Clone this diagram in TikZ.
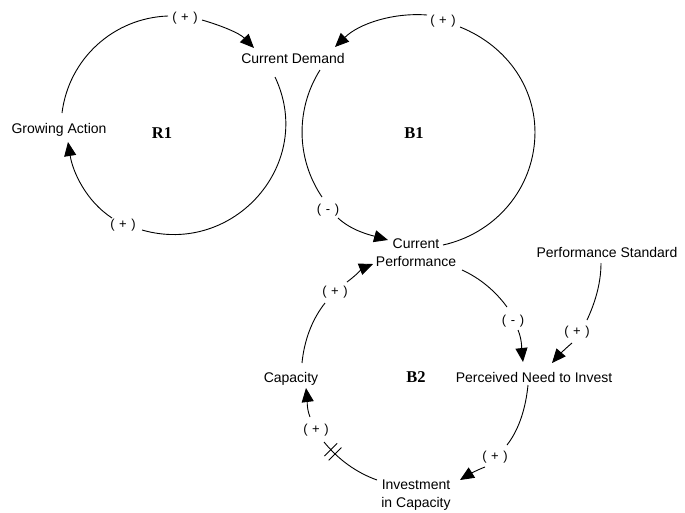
\documentclass[tikz,border=0pt]{standalone}
\usepackage{fontspec}
\setmainfont{Liberation Sans}
\newfontfamily\loopfont{Liberation Serif}
\usetikzlibrary{arrows.meta,calc,decorations.markings}
\newcommand\polfont{\fontsize{13}{15}\selectfont\spaceskip=4.6pt plus 0pt minus 0pt\relax}
\begin{document}
\begin{tikzpicture}[x=1pt,y=-1pt,
  var/.style={font=\fontsize{14}{18}\selectfont, inner sep=1pt, align=center},
  pol/.style={font=\polfont, inner sep=1pt},
  loopname/.style={font=\loopfont\bfseries\fontsize{16.5}{18}\selectfont},
  seg/.style={line width=0.9pt},
  link/.style={line width=0.9pt, -{Triangle[length=14pt,width=12pt]}},
  delay/.style={postaction={decorate}, decoration={markings, mark=at position 0.8 with {\draw[line width=0.9pt] (-3,-9) -- (-3,9); \draw[line width=0.9pt] (3,-9) -- (3,9);}}}
]
\useasboundingbox (0,0) rectangle (685,512);

% variables
\node[var] (CD) at (293,58) {Current Demand};
\node[var] (GA) at (59,129.5) {Growing Action};
\node[var] (CP) at (416,253) {Current\\Performance};
\node[var] (PS) at (607,252) {Performance Standard};
\node[var] (Cap) at (291,378.5) {Capacity};
\node[var] (PN) at (534,377) {Perceived Need to Invest};
\node[var] (IC) at (416,495) {Investment\\in Capacity};

% loop names
\node[loopname] (R1) at (162,133) {R1};
\node[loopname] (B1) at (414,133) {B1};
\node[loopname] (B2) at (416,377) {B2};

% polarity labels
\node[pol] (L1) at (185,18) {( + )};
\node[pol] (L2) at (123,225) {( + )};
\node[pol] (L3) at (443,21) {( + )};
\node[pol] (L4) at (328,210) {( - )};
\node[pol] (L5) at (335,292) {( + )};
\node[pol] (L6) at (513,321) {( - )};
\node[pol] (L7) at (577,332) {( + )};
\node[pol] (L8) at (495,457) {( + )};
\node[pol] (L9) at (316,430) {( + )};

% R1 loop
\draw[seg] ($(GA)+(3,-16.5)$) .. controls (68.7,58.8) and (113.5,17.9) .. ($(L1)+(-17,-2)$);
\draw[link] ($(L1)+(17,2)$) .. controls (220.7,25.4) and (239.4,33) .. ($(CD)+(-39,-10)$);
\draw[seg] ($(CD)+(-18,19)$) .. controls (316,163.3) and (233.9,256.4) .. ($(L2)+(19,5)$);
\draw[link] ($(L2)+(-11,-7)$) .. controls (86.3,201.3) and (72.8,172.2) .. ($(GA)+(9,12.5)$);

% B1 loop
\draw[seg] ($(CP)+(27,-8)$) .. controls (493.1,233.9) and (530.4,192.6) .. (534.6,141.5)
  .. controls (538.8,90.4) and (507.6,46) .. ($(L3)+(17,6)$);
\draw[link] ($(L3)+(-16,-6)$) .. controls (393.4,12.4) and (359.1,23.5) .. ($(CD)+(42,-11)$);
\draw[seg] ($(CD)+(27,12)$) .. controls (295.4,109) and (296.1,158.8) .. ($(L4)+(-6,-13)$);
\draw[link] ($(L4)+(10,8)$) .. controls (351.6,230.7) and (370.1,235) .. ($(CP)+(-28,-13)$);

% B2 loop
\draw[seg] ($(Cap)+(11,-15.5)$) .. controls (304.1,341.3) and (311.5,320.1) .. ($(L5)+(-10,11)$);
\draw[link] ($(L5)+(12,-10)$) .. controls (354.7,276.3) and (364.1,267.6) .. ($(CP)+(-43,11)$);
\draw[seg] ($(CP)+(46,17)$) .. controls (479.9,278.1) and (495.4,291.1) .. ($(L6)+(-6,-14)$);
\draw[link] ($(L6)+(5,9)$) .. controls (522.3,340.1) and (521.8,351.1) .. ($(PN)+(-11,-15)$);
\draw[seg] ($(PS)+(-6,11)$) .. controls (601,285) and (594,305) .. ($(L7)+(10,-12)$);
\draw[link] ($(L7)+(-5,11)$) .. controls (566,348) and (558,356) .. ($(PN)+(18,-14)$);
\draw[seg] ($(PN)+(-6,8)$) .. controls (525.9,406.1) and (520,428.2) .. ($(L8)+(12,-12)$);
\draw[link] ($(L8)+(-10,10)$) .. controls (477,470) and (468,475) .. ($(IC)+(44,-15)$);
\draw[seg,delay] ($(IC)+(-39,-15)$) .. controls (356.3,472.6) and (338.3,459.5) .. ($(L9)+(8,12)$);
\draw[link] ($(L9)+(-6,-13)$) .. controls (306.3,407.9) and (307.2,397.7) .. ($(Cap)+(15,9.5)$);
\end{tikzpicture}
\end{document}
